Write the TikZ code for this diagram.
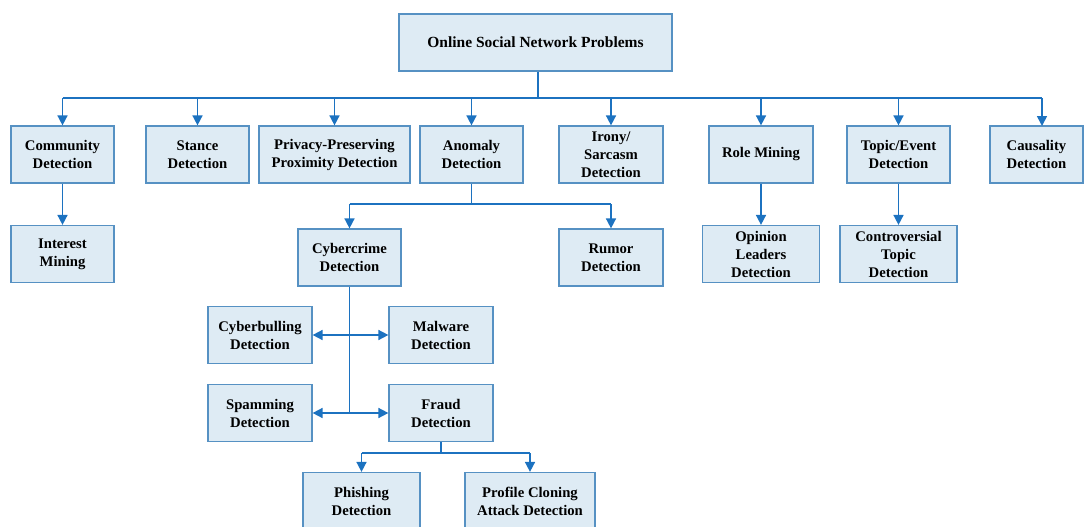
\documentclass[tikz,border=0pt]{standalone}
\usepackage{fontspec}
\setmainfont{Liberation Serif}
\usetikzlibrary{arrows.meta}

\definecolor{boxfill}{RGB}{222,235,244}
\definecolor{boxline}{RGB}{86,145,195}
\definecolor{linkblue}{RGB}{28,114,192}

\tikzset{
  probbox/.style={draw=boxline, fill=boxfill, line width=1.2pt, align=center,
    minimum height=57pt, inner sep=2pt,
    font=\fontsize{14.7}{18}\selectfont\bfseries},
  link/.style={draw=linkblue, line width=1.6pt},
  arr/.style={link, -{Triangle[length=10pt,width=10pt]}}
}

\begin{document}
\begin{tikzpicture}[x=1pt,y=-1pt]
	\useasboundingbox (0,0) rectangle (1084,527);

	% root
	\node[probbox, minimum width=273pt, font=\fontsize{15.5}{18}\selectfont\bfseries] (root) at (535.5,42.5) {Online Social Network Problems};

	% first level
	\node[probbox, minimum width=103pt] (comm) at (62.5,154.5) {Community\\Detection};
	\node[probbox, minimum width=103pt] (stance) at (197.5,154.5) {Stance\\Detection};
	\node[probbox, minimum width=151pt] (privacy) at (334.5,154.5) {Privacy-Preserving\\Proximity Detection};
	\node[probbox, minimum width=103pt] (anomaly) at (471.5,154.5) {Anomaly\\Detection};
	\node[probbox, minimum width=104pt] (irony) at (611,154.5) {Irony/\\Sarcasm\\Detection};
	\node[probbox, minimum width=104pt] (role) at (761,154.5) {Role Mining};
	\node[probbox, minimum width=103pt] (topic) at (898.5,154.5) {Topic/Event\\Detection};
	\node[probbox, minimum width=93pt] (causal) at (1036.5,154.5) {Causality\\Detection};

	% second level
	\node[probbox, minimum width=103pt] (interest) at (62.5,254) {Interest\\Mining};
	\node[probbox, minimum width=103pt] (cyber) at (349.5,257.5) {Cybercrime\\Detection};
	\node[probbox, minimum width=104pt] (rumor) at (611,257.5) {Rumor\\Detection};
	\node[probbox, minimum width=117pt] (opinion) at (761,254) {Opinion\\Leaders\\Detection};
	\node[probbox, minimum width=117pt] (contro) at (898.5,254) {Controversial\\Topic\\Detection};

	% cybercrime branch
	\node[probbox, minimum width=104pt] (bully) at (260,335) {Cyberbulling\\Detection};
	\node[probbox, minimum width=104pt] (malware) at (441,335) {Malware\\Detection};
	\node[probbox, minimum width=104pt] (spam) at (260,413) {Spamming\\Detection};
	\node[probbox, minimum width=104pt] (fraud) at (441,413) {Fraud\\Detection};
	\node[probbox, minimum width=117pt] (phish) at (361.5,501) {Phishing\\Detection};
	\node[probbox, minimum width=130pt] (profile) at (530,501) {Profile Cloning\\Attack Detection};

	% connectors
	\coordinate (rootbar) at (538,98);
	\coordinate (causaltop) at (1042,126);
	\draw[link] (root.south -| rootbar) -- (rootbar);
	\draw[link] (rootbar -| comm.north) -- (rootbar -| causaltop);
	\foreach \n in {comm,stance,privacy,anomaly,irony,role,topic}
		\draw[arr] (rootbar -| \n.north) -- (\n.north);
	\draw[arr] (rootbar -| causaltop) -- (causaltop);

	\draw[arr] (comm.south) -- (interest.north);
	\draw[arr] (role.south) -- (opinion.north);
	\draw[arr] (topic.south) -- (contro.north);

	\coordinate (anombar) at (471.5,204);
	\draw[link] (anomaly.south) -- (anombar);
	\draw[link] (anombar -| cyber.north) -- (anombar -| rumor.north);
	\draw[arr] (anombar -| cyber.north) -- (cyber.north);
	\draw[arr] (anombar -| rumor.north) -- (rumor.north);

	\coordinate (cyberend) at (349.5,413);
	\draw[link] (cyber.south) -- (cyberend);
	\draw[arr] (cyber.south |- bully.east) -- (bully.east);
	\draw[arr] (cyber.south |- malware.west) -- (malware.west);
	\draw[arr] (cyberend) -- (spam.east);
	\draw[arr] (cyberend) -- (fraud.west);

	\coordinate (fraudbar) at (441,453);
	\draw[link] (fraud.south) -- (fraudbar);
	\draw[link] (fraudbar -| phish.north) -- (fraudbar -| profile.north);
	\draw[arr] (fraudbar -| phish.north) -- (phish.north);
	\draw[arr] (fraudbar -| profile.north) -- (profile.north);
\end{tikzpicture}
\end{document}
